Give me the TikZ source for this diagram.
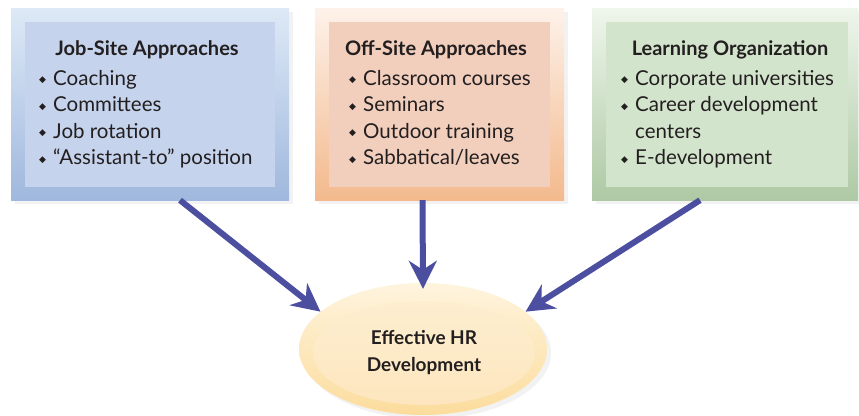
\documentclass[tikz,border=0pt]{standalone}
\usepackage{fontspec}
\setmainfont{Lato}
\newfontfamily\symfont{DejaVu Sans}
\usetikzlibrary{positioning,arrows.meta,shapes.geometric,shadows}
\definecolor{inkdark}{RGB}{35,31,32}
\definecolor{flowc}{RGB}{76,78,160}
\definecolor{jobtop}{RGB}{221,233,246}
\definecolor{jobbot}{RGB}{160,184,222}
\definecolor{jobin}{RGB}{197,211,236}
\definecolor{offtop}{RGB}{253,242,234}
\definecolor{offbot}{RGB}{243,185,141}
\definecolor{offin}{RGB}{242,206,188}
\definecolor{orgtop}{RGB}{239,246,236}
\definecolor{orgbot}{RGB}{174,201,164}
\definecolor{orgin}{RGB}{211,228,204}
\definecolor{hrtop}{RGB}{254,244,222}
\definecolor{hrbot}{RGB}{252,220,156}
\definecolor{hrintop}{RGB}{253,238,208}
\definecolor{hrinbot}{RGB}{253,230,190}
\newcommand{\bul}{\makebox[14pt][l]{\raisebox{2.5pt}{\symfont\fontsize{9}{9}\selectfont ◆}}}
\tikzset{
  outbox/.style={rectangle,inner sep=0pt,minimum height=192pt,drop shadow={opacity=0.1,shadow xshift=4pt,shadow yshift=-4pt}},
  inbox/.style={rectangle,inner sep=0pt,minimum height=165pt},
  head/.style={anchor=base,inner sep=0pt,text=inkdark,font=\fontsize{20}{22}\selectfont\bfseries},
  item/.style={anchor=base west,inner sep=0pt,text=inkdark,font=\fontsize{20.5}{22}\selectfont},
  flow/.style={line width=6pt,flowc,-{Stealth[length=28pt,width=28pt,inset=9pt]}},
  every picture/.style={x=1pt,y=-1pt}
}
\begin{document}
\begin{tikzpicture}
  \useasboundingbox (0,0) rectangle (859,415);
  % three approach boxes
  \node[outbox,minimum width=278pt,top color=jobtop,bottom color=jobbot] (job) at (150,104) {};
  \node[inbox,minimum width=250pt,fill=jobin] (jobin) at (150,104.5) {};
  \node[outbox,minimum width=249pt,top color=offtop,bottom color=offbot] (off) at (439.5,104) {};
  \node[inbox,minimum width=221pt,fill=offin] (offin) at (439.5,104.5) {};
  \node[outbox,minimum width=266pt,top color=orgtop,bottom color=orgbot] (org) at (725,104) {};
  \node[inbox,minimum width=242pt,fill=orgin] (orgin) at (727,104.5) {};
  \node[head] (jobhd) at (147,55) {Job-Site Approaches};
  \foreach \t [count=\i] in {Coaching,Committees,Job rotation,“Assistant-to” position}
    \node[item] (job\i) at (39,58.5+26.5*\i) {\bul\t};
  \node[head] (offhd) at (436,55) {Off-Site Approaches};
  \foreach \t [count=\i] in {Classroom courses,Seminars,Outdoor training,Sabbatical/leaves}
    \node[item] (off\i) at (349,58.5+26.5*\i) {\bul\t};
  \node[head] (orghd) at (730,55) {Learning Organization};
  \node[item] (org1) at (621,85) {\bul Corporate universities};
  \node[item] (org2) at (621,111.5) {\bul Career development};
  \node[item] (org3) at (635,138) {centers};
  \node[item] (org4) at (621,164.5) {\bul E-development};
  % outcome
  \node[ellipse,minimum width=248pt,minimum height=132pt,inner sep=0pt,top color=hrtop,bottom color=hrbot,drop shadow={opacity=0.1,shadow xshift=4pt,shadow yshift=-4pt}] (hr) at (423,349) {};
  \node[ellipse,minimum width=222pt,minimum height=104pt,inner sep=0pt,top color=hrintop,bottom color=hrinbot,align=center,text=inkdark,font=\fontsize{19}{27}\selectfont\bfseries] (hrin) at (424,353) {Effective HR\\Development};
  % arrows
  \draw[flow] ([xshift=30pt]job.south) -- (hr.160);
  \draw[flow] ([xshift=-17pt]off.south) -- ([yshift=-6pt]hr.north);
  \draw[flow] ([xshift=-25pt]org.south) -- (hr.20);
\end{tikzpicture}
\end{document}
